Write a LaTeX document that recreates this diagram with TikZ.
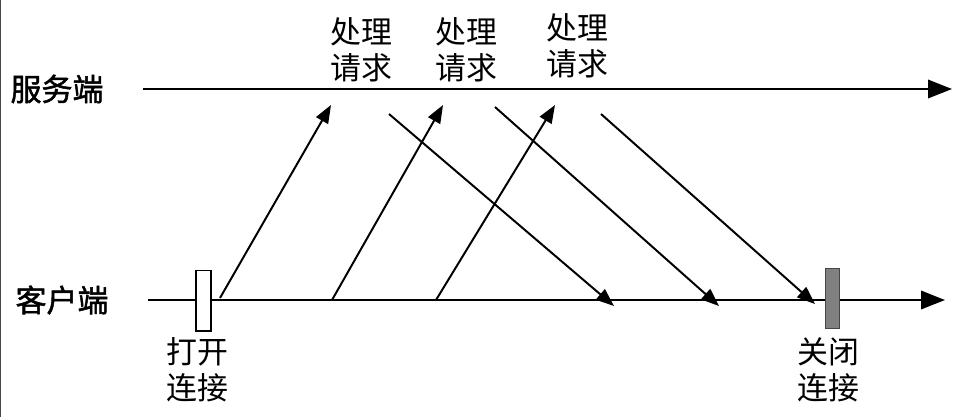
\documentclass[tikz,border=0pt]{standalone}
\usepackage{fontspec}
\newfontfamily\cjk{Noto Sans CJK SC}
\newfontfamily\cjkbold[FakeBold=1.6]{Noto Sans CJK SC}
\usetikzlibrary{arrows.meta,positioning}
\definecolor{closeGray}{RGB}{128,128,128}
\definecolor{edgeGray}{RGB}{70,70,70}

\begin{document}
\begin{tikzpicture}[
        x=0.025cm,y=-0.025cm,
        lbl/.style={font=\cjk\fontsize{22}{25.5}\selectfont,align=center,inner sep=0pt},
        side/.style={font=\cjkbold\fontsize{22}{25.5}\selectfont,inner sep=0pt},
        axis/.style={-{Triangle[length=0.6cm,width=0.46cm]},line width=1.6pt},
        msg/.style={-{Triangle[length=0.45cm,width=0.34cm]},line width=1.4pt},
        conn/.style={draw,minimum width=0.37cm,minimum height=1.5cm,inner sep=0pt}
      ]
        \useasboundingbox (0,0) rectangle (968,417);
        \draw[edgeGray,line width=0.8pt] (0.5,0) -- (0.5,417);
        % time lines
        \node[side] (srv) at (57,89) {服务端};
        \node[side] (cli) at (62,300) {客户端};
        \coordinate (srvA) at (143,89);
        \coordinate (srvB) at (952,89);
        \coordinate (cliA) at (148,300);
        \coordinate (cliB) at (945,300);
        \draw[axis] (srvA) -- (srvB);
        \draw[axis] (cliA) -- (cliB);
        % open / close
        \node[conn,line width=1.4pt,fill=white] (open) at (203.5,300.5) {};
        \node[conn,draw=edgeGray,line width=0.6pt,fill=closeGray] (close) at (832.5,298.5) {};
        \node[lbl] (openTxt) at (197,370) {打开\\连接};
        \node[lbl] (closeTxt) at (828,370) {关闭\\连接};
        % requests
        \node[lbl] (req1) at (361,50) {处理\\请求};
        \node[lbl] (req2) at (466,50) {处理\\请求};
        \node[lbl] (req3) at (577,46) {处理\\请求};
        \coordinate (up1a) at (220,298);
        \coordinate (up1b) at (331,105);
        \coordinate (up2a) at (332,300);
        \coordinate (up2b) at (443,105);
        \coordinate (up3a) at (436,300);
        \coordinate (up3b) at (555,105);
        \coordinate (dn1a) at (389,114);
        \coordinate (dn1b) at (614,306);
        \coordinate (dn2a) at (495,107);
        \coordinate (dn2b) at (719,306);
        \coordinate (dn3a) at (601,114);
        \coordinate (dn3b) at (815,304);
        \draw[msg] (up1a) -- (up1b);
        \draw[msg] (up2a) -- (up2b);
        \draw[msg] (up3a) -- (up3b);
        \draw[msg] (dn1a) -- (dn1b);
        \draw[msg] (dn2a) -- (dn2b);
        \draw[msg] (dn3a) -- (dn3b);
      \end{tikzpicture}
\end{document}
